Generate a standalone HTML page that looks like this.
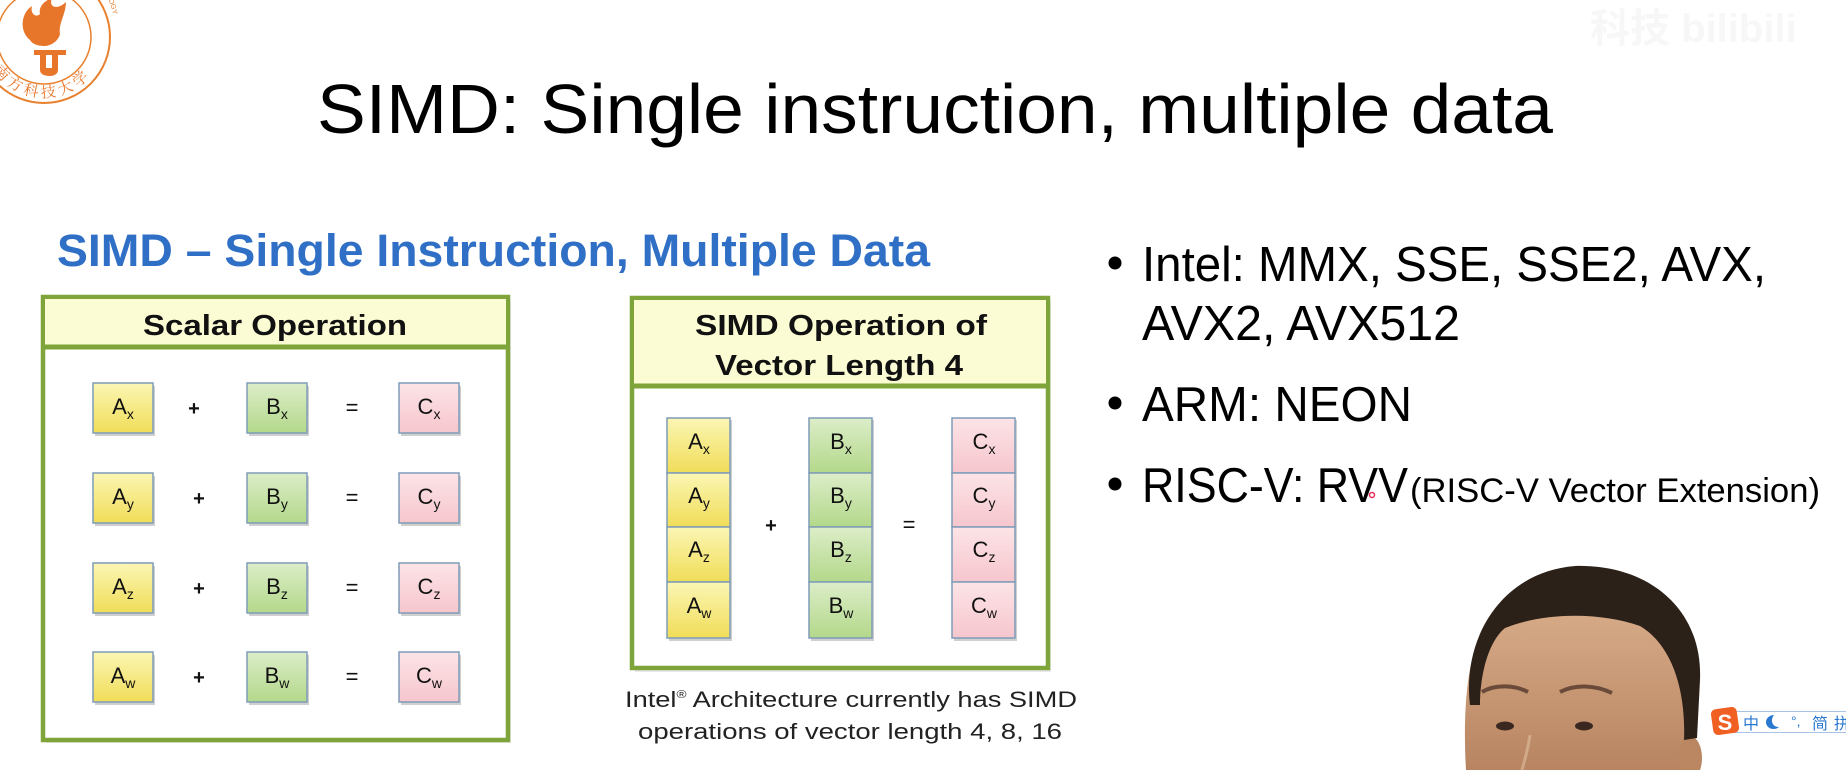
<!DOCTYPE html>
<html>
<head>
<meta charset="utf-8">
<style>
html,body{margin:0;padding:0;background:#fff;}
svg{display:block;}
</style>
</head>
<body>
<svg width="1846" height="770" viewBox="0 0 1846 770" xmlns="http://www.w3.org/2000/svg" font-family="'Liberation Sans', 'Noto Sans CJK SC', sans-serif">
<defs>
  <linearGradient id="gA" x1="0" y1="0" x2="0" y2="1">
    <stop offset="0" stop-color="#fbf6b4"/>
    <stop offset="1" stop-color="#f0dd58"/>
  </linearGradient>
  <linearGradient id="gB" x1="0" y1="0" x2="0" y2="1">
    <stop offset="0" stop-color="#dcedc8"/>
    <stop offset="1" stop-color="#b3d88a"/>
  </linearGradient>
  <linearGradient id="gC" x1="0" y1="0" x2="0" y2="1">
    <stop offset="0" stop-color="#fce4e7"/>
    <stop offset="1" stop-color="#f6c6cd"/>
  </linearGradient>
  <linearGradient id="skin" x1="0" y1="0" x2="0" y2="1">
    <stop offset="0" stop-color="#d7ab88"/>
    <stop offset="1" stop-color="#b88461"/>
  </linearGradient>
  <path id="arcBottom" d="M -13,58 A 61,61 0 0 0 101,58"/>
  <path id="arcRight" d="M 80,-28 A 58,58 0 0 1 102,60"/>
</defs>

<!-- Logo -->
<g fill="none" stroke="#e8802e">
  <circle cx="44" cy="37" r="66" stroke-width="2"/>
  <circle cx="44" cy="37" r="47" stroke-width="1.5"/>
</g>
<path d="M30,40 C18,30 22,12 32,6 C30,14 36,18 40,14 C38,6 46,0 52,-2 C48,8 58,10 66,2 C66,14 58,24 60,34 C58,42 50,46 44,46 C38,46 32,44 30,40 Z" fill="#e8762a"/>
<path d="M34,50 L66,50 L66,55 L58,55 L58,70 C58,74 54,76 50,76 C44,76 40,74 40,70 L40,55 L34,55 Z M46,55 L46,68 L52,68 L52,55 Z" fill="#e8762a"/>
<text font-size="15" fill="#e8762a" font-family="'Noto Serif CJK SC','Noto Sans CJK SC',serif" letter-spacing="4"><textPath href="#arcBottom" startOffset="14">南方科技大学</textPath></text>
<text font-size="7" fill="#e8802e"><textPath href="#arcRight">D TECHNOLOGY</textPath></text>

<!-- faint watermark -->
<text x="1590" y="42" font-size="40" fill="#f7f7f7" font-weight="bold">科技 bilibili</text>

<!-- Title -->
<text x="317" y="133" font-size="70" fill="#000" textLength="1236" lengthAdjust="spacingAndGlyphs">SIMD: Single instruction, multiple data</text>

<!-- Blue subtitle -->
<text x="57" y="266" font-size="45" font-weight="bold" fill="#2f6fc5" textLength="873" lengthAdjust="spacingAndGlyphs">SIMD – Single Instruction, Multiple Data</text>

<!-- Scalar box -->
<rect x="46" y="300" width="465" height="443" fill="#d8d8d8" opacity="0.6"/>
<rect x="43" y="297" width="465" height="443" fill="#fff" stroke="#7fa53a" stroke-width="4.5"/>
<rect x="45" y="299" width="461" height="47" fill="#fbfbd4"/>
<line x1="43" y1="347" x2="508" y2="347" stroke="#7fa53a" stroke-width="5"/>
<text x="275" y="335" font-size="29" font-weight="bold" fill="#111" text-anchor="middle" textLength="264" lengthAdjust="spacingAndGlyphs">Scalar Operation</text>

<g stroke="#7f9cb8" stroke-width="1.5">
  <g fill="#cfcfcf" stroke="none">
    <rect x="95" y="386" width="60" height="50"/><rect x="249" y="386" width="60" height="50"/><rect x="401" y="386" width="60" height="50"/>
    <rect x="95" y="476" width="60" height="50"/><rect x="249" y="476" width="60" height="50"/><rect x="401" y="476" width="60" height="50"/>
    <rect x="95" y="566" width="60" height="50"/><rect x="249" y="566" width="60" height="50"/><rect x="401" y="566" width="60" height="50"/>
    <rect x="95" y="655" width="60" height="50"/><rect x="249" y="655" width="60" height="50"/><rect x="401" y="655" width="60" height="50"/>
  </g>
  <rect x="93" y="383" width="60" height="50" fill="url(#gA)"/>
  <rect x="247" y="383" width="60" height="50" fill="url(#gB)"/>
  <rect x="399" y="383" width="60" height="50" fill="url(#gC)"/>
  <rect x="93" y="473" width="60" height="50" fill="url(#gA)"/>
  <rect x="247" y="473" width="60" height="50" fill="url(#gB)"/>
  <rect x="399" y="473" width="60" height="50" fill="url(#gC)"/>
  <rect x="93" y="563" width="60" height="50" fill="url(#gA)"/>
  <rect x="247" y="563" width="60" height="50" fill="url(#gB)"/>
  <rect x="399" y="563" width="60" height="50" fill="url(#gC)"/>
  <rect x="93" y="652" width="60" height="50" fill="url(#gA)"/>
  <rect x="247" y="652" width="60" height="50" fill="url(#gB)"/>
  <rect x="399" y="652" width="60" height="50" fill="url(#gC)"/>
</g>
<g font-size="22" fill="#111" text-anchor="middle">
  <text x="123" y="414">A<tspan font-size="14" dy="5">x</tspan></text>
  <text x="277" y="414">B<tspan font-size="14" dy="5">x</tspan></text>
  <text x="429" y="414">C<tspan font-size="14" dy="5">x</tspan></text>
  <text x="123" y="504">A<tspan font-size="14" dy="5">y</tspan></text>
  <text x="277" y="504">B<tspan font-size="14" dy="5">y</tspan></text>
  <text x="429" y="504">C<tspan font-size="14" dy="5">y</tspan></text>
  <text x="123" y="594">A<tspan font-size="14" dy="5">z</tspan></text>
  <text x="277" y="594">B<tspan font-size="14" dy="5">z</tspan></text>
  <text x="429" y="594">C<tspan font-size="14" dy="5">z</tspan></text>
  <text x="123" y="683">A<tspan font-size="14" dy="5">w</tspan></text>
  <text x="277" y="683">B<tspan font-size="14" dy="5">w</tspan></text>
  <text x="429" y="683">C<tspan font-size="14" dy="5">w</tspan></text>
  <text x="194" y="415" font-weight="bold" font-size="20">+</text>
  <text x="199" y="505" font-weight="bold" font-size="20">+</text>
  <text x="199" y="595" font-weight="bold" font-size="20">+</text>
  <text x="199" y="684" font-weight="bold" font-size="20">+</text>
  <text x="352" y="415" font-size="22">=</text>
  <text x="352" y="505" font-size="22">=</text>
  <text x="352" y="595" font-size="22">=</text>
  <text x="352" y="684" font-size="22">=</text>
</g>

<!-- SIMD box -->
<rect x="635" y="301" width="416" height="371" fill="#d8d8d8" opacity="0.6"/>
<rect x="632" y="298" width="416" height="370" fill="#fff" stroke="#7fa53a" stroke-width="4.5"/>
<rect x="634" y="300" width="412" height="84" fill="#fbfbd4"/>
<line x1="632" y1="386" x2="1048" y2="386" stroke="#7fa53a" stroke-width="5"/>
<text x="841" y="335" font-size="29" font-weight="bold" fill="#111" text-anchor="middle" textLength="292" lengthAdjust="spacingAndGlyphs">SIMD Operation of</text>
<text x="839" y="375" font-size="29" font-weight="bold" fill="#111" text-anchor="middle" textLength="248" lengthAdjust="spacingAndGlyphs">Vector Length 4</text>

<g fill="#cfcfcf">
  <rect x="669" y="420" width="63" height="221"/>
  <rect x="811" y="420" width="63" height="221"/>
  <rect x="954" y="420" width="63" height="221"/>
</g>
<g stroke="#7f9cb8" stroke-width="1.5">
  <rect x="667" y="418" width="63" height="55" fill="url(#gA)"/>
  <rect x="667" y="473" width="63" height="54" fill="url(#gA)"/>
  <rect x="667" y="527" width="63" height="55" fill="url(#gA)"/>
  <rect x="667" y="582" width="63" height="56" fill="url(#gA)"/>
  <rect x="809" y="418" width="63" height="55" fill="url(#gB)"/>
  <rect x="809" y="473" width="63" height="54" fill="url(#gB)"/>
  <rect x="809" y="527" width="63" height="55" fill="url(#gB)"/>
  <rect x="809" y="582" width="63" height="56" fill="url(#gB)"/>
  <rect x="952" y="418" width="63" height="55" fill="url(#gC)"/>
  <rect x="952" y="473" width="63" height="54" fill="url(#gC)"/>
  <rect x="952" y="527" width="63" height="55" fill="url(#gC)"/>
  <rect x="952" y="582" width="63" height="56" fill="url(#gC)"/>
</g>
<g font-size="22" fill="#111" text-anchor="middle">
  <text x="699" y="449">A<tspan font-size="14" dy="5">x</tspan></text>
  <text x="699" y="503">A<tspan font-size="14" dy="5">y</tspan></text>
  <text x="699" y="557">A<tspan font-size="14" dy="5">z</tspan></text>
  <text x="699" y="613">A<tspan font-size="14" dy="5">w</tspan></text>
  <text x="841" y="449">B<tspan font-size="14" dy="5">x</tspan></text>
  <text x="841" y="503">B<tspan font-size="14" dy="5">y</tspan></text>
  <text x="841" y="557">B<tspan font-size="14" dy="5">z</tspan></text>
  <text x="841" y="613">B<tspan font-size="14" dy="5">w</tspan></text>
  <text x="984" y="449">C<tspan font-size="14" dy="5">x</tspan></text>
  <text x="984" y="503">C<tspan font-size="14" dy="5">y</tspan></text>
  <text x="984" y="557">C<tspan font-size="14" dy="5">z</tspan></text>
  <text x="984" y="613">C<tspan font-size="14" dy="5">w</tspan></text>
  <text x="771" y="532" font-weight="bold" font-size="20">+</text>
  <text x="909" y="532" font-size="22">=</text>
</g>

<!-- Caption -->
<text x="625" y="707" font-size="22" fill="#222" textLength="452" lengthAdjust="spacingAndGlyphs">Intel<tspan font-size="11" dy="-9">®</tspan><tspan dy="9"> Architecture currently has SIMD</tspan></text>
<text x="638" y="739" font-size="22" fill="#222" textLength="424" lengthAdjust="spacingAndGlyphs">operations of vector length 4, 8, 16</text>

<!-- Bullets -->
<g fill="#000">
  <circle cx="1115" cy="263" r="6.5"/>
  <circle cx="1115" cy="403" r="6.5"/>
  <circle cx="1115" cy="484" r="6.5"/>
  <text x="1142" y="281" font-size="49" textLength="624" lengthAdjust="spacingAndGlyphs">Intel: MMX, SSE, SSE2, AVX,</text>
  <text x="1142" y="340" font-size="49" textLength="318" lengthAdjust="spacingAndGlyphs">AVX2, AVX512</text>
  <text x="1142" y="421" font-size="49" textLength="270" lengthAdjust="spacingAndGlyphs">ARM: NEON</text>
  <text x="1142" y="502" font-size="49" textLength="266" lengthAdjust="spacingAndGlyphs">RISC-V: RVV</text>
  <text x="1410" y="502" font-size="34" textLength="410" lengthAdjust="spacingAndGlyphs">(RISC-V Vector Extension)</text>
</g>
<circle cx="1372" cy="495" r="2.5" fill="none" stroke="#e0305a" stroke-width="1.5"/>

<!-- Face -->
<path d="M1478,640 C1500,612 1560,606 1620,610 C1668,620 1690,660 1690,720 L1694,770 L1466,770 C1463,720 1466,670 1478,640 Z" fill="url(#skin)"/>
<ellipse cx="1690" cy="758" rx="12" ry="22" fill="#bb8763"/>
<path d="M1470,705 C1462,640 1500,572 1575,566 C1650,564 1703,610 1700,680 L1697,738 L1684,740 C1686,690 1672,645 1640,626 C1600,612 1545,612 1505,628 C1488,642 1480,675 1480,705 Z" fill="#2b2119"/>
<path d="M1482,692 C1495,684 1515,685 1528,692" stroke="#6a4a38" stroke-width="4" fill="none"/>
<path d="M1560,692 C1575,684 1595,685 1612,693" stroke="#6a4a38" stroke-width="4" fill="none"/>
<ellipse cx="1505" cy="726" rx="9" ry="4.5" fill="#3a2820"/>
<ellipse cx="1584" cy="726" rx="9" ry="4.5" fill="#3a2820"/>
<path d="M1530,735 C1528,750 1524,762 1522,770" stroke="#e0bfa0" stroke-width="3" fill="none" opacity="0.6"/>

<!-- Sogou IME bar -->
<rect x="1733.5" y="711.5" width="120" height="21" fill="#fff" stroke="#a9c3e6" stroke-width="1"/>
<rect x="1712" y="708" width="26" height="26" rx="5" fill="#f06022" transform="rotate(-8 1725 721)"/>
<text x="1725" y="730" font-size="22" font-weight="bold" fill="#fff" text-anchor="middle">S</text>
<g font-size="16" fill="#2a78d0" font-family="'Liberation Sans','Noto Sans CJK SC',sans-serif">
  <text x="1743" y="729">中</text>
  <path d="M1774,715 C1770,720 1772,727 1779,727 C1775,731 1766,729 1766,722 C1766,718 1770,715 1774,715 Z" fill="#2a78d0"/>
  <text x="1791" y="726" font-size="14">°,</text>
  <text x="1812" y="729">简</text>
  <text x="1834" y="729">拼</text>
</g>
</svg>
</body>
</html>
